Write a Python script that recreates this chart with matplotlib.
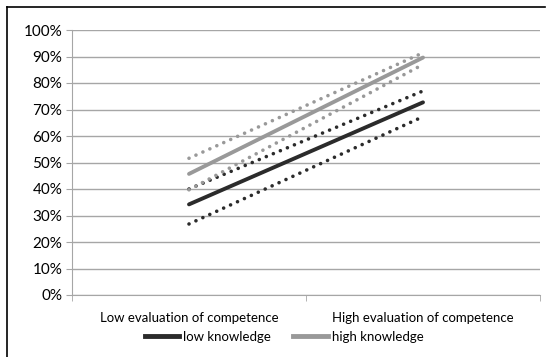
import matplotlib.pyplot as plt
from matplotlib.lines import Line2D

plt.rcParams['font.family'] = ['Lato', 'DejaVu Sans']

categories = ['Low evaluation of competence', 'High evaluation of competence']
low_knowledge = [0.342, 0.727]
low_upper = [0.400, 0.770]
low_lower = [0.268, 0.673]
high_knowledge = [0.457, 0.896]
high_upper = [0.516, 0.914]
high_lower = [0.397, 0.870]

dark = '#2b2b2b'
light = '#999999'

fig = plt.figure(figsize=(5.46, 3.57), dpi=100)
ax = fig.add_axes([72 / 546, 1 - 295 / 357, 468 / 546, 265 / 357])

x = [0, 1]
dots = (0, (0.01, 2.1))
for vals, col in [(low_upper, dark), (low_lower, dark), (high_upper, light), (high_lower, light)]:
    ax.plot(x, vals, color=col, lw=2.6, ls=dots, dash_capstyle='round')
ax.plot(x, high_knowledge, color=light, lw=2.8, solid_capstyle='round')
ax.plot(x, low_knowledge, color=dark, lw=2.8, solid_capstyle='round')

ax.set_xlim(-0.5, 1.5)
ax.set_ylim(0, 1)
ax.set_yticks([i / 10 for i in range(11)])
ax.set_yticklabels([f'{i * 10}%' for i in range(11)], fontsize=11)
ax.yaxis.grid(True, color='#a6a6a6', lw=1)
ax.set_axisbelow(True)
ax.set_xticks([0, 1])
ax.set_xticklabels(categories, fontsize=9.5)
ax.set_xticks([-0.5, 0.5, 1.5], minor=True)
ax.tick_params(axis='x', which='major', length=0, pad=12)
ax.tick_params(axis='x', which='minor', length=4, color='#a6a6a6')
ax.tick_params(axis='y', length=4, color='#a6a6a6', pad=3)
for s in ['top', 'right']:
    ax.spines[s].set_visible(False)
ax.spines['left'].set_color('#a6a6a6')
ax.spines['bottom'].set_color('#a6a6a6')

handles = [Line2D([], [], color=dark, lw=3.5), Line2D([], [], color=light, lw=3.5)]
fig.legend(handles, ['low knowledge', 'high knowledge'], loc='center',
           bbox_to_anchor=(284 / 546, 1 - 337 / 357), ncol=2, frameon=False,
           fontsize=9.5, handlelength=2.6, handletextpad=0.3, columnspacing=1.7)

fig.add_artist(Line2D([7 / 546, 7 / 546], [0, 1 - 7 / 357], color='black', lw=1.2))
fig.add_artist(Line2D([7 / 546, 545 / 546], [1 - 7 / 357, 1 - 7 / 357], color='black', lw=1.2))

fig.savefig('out.png', dpi=100)
